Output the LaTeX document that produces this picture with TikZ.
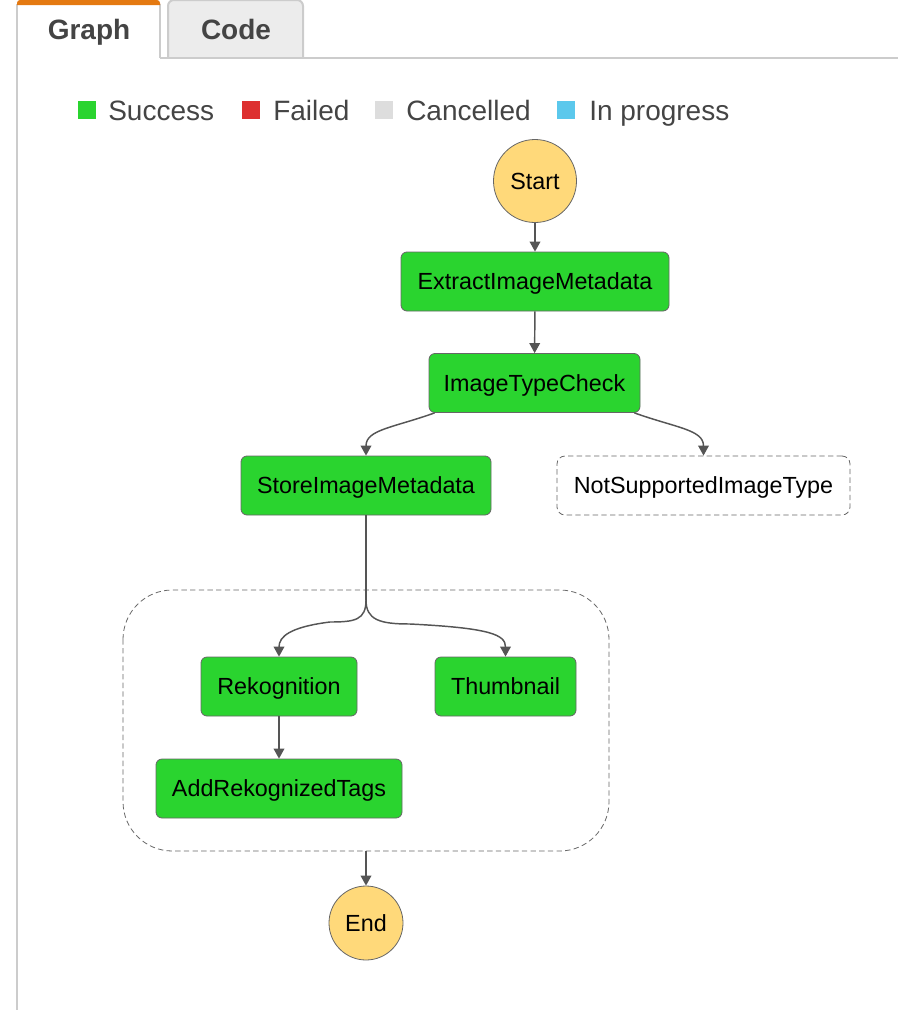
\documentclass[tikz,border=0pt]{standalone}
\usepackage{fontspec}
\setmainfont{Liberation Sans}
\usetikzlibrary{arrows.meta,calc}
\definecolor{okgreen}{HTML}{2AD42F}
\definecolor{failred}{HTML}{DD3030}
\definecolor{cancgray}{HTML}{DDDDDD}
\definecolor{progblue}{HTML}{5BC8EC}
\definecolor{termfill}{HTML}{FFD97A}
\definecolor{edgegray}{HTML}{555555}
\definecolor{bordergray}{HTML}{666666}
\definecolor{tabgray}{HTML}{ECECEC}
\definecolor{tabline}{HTML}{CCCCCC}
\definecolor{tabtext}{HTML}{444444}
\definecolor{taborange}{HTML}{E47911}
\begin{document}
\begin{tikzpicture}[x=0.75pt,y=-0.75pt,
  statebox/.style={draw=bordergray,line width=0.6pt,fill=okgreen,rounded corners=4.5pt,
    minimum height=44.25pt,inner sep=0pt,text height=12.6pt,text depth=0pt,
    font=\fontsize{17.5}{20}\selectfont,text=black},
  dashbox/.style={draw=bordergray,line width=0.6pt,dash pattern=on 4pt off 2.5pt,fill=white,rounded corners=6pt,
    minimum height=44.25pt,inner sep=0pt,text height=12.6pt,text depth=0pt,
    font=\fontsize{17.5}{20}\selectfont,text=black},
  term/.style={circle,draw=bordergray,line width=0.6pt,fill=termfill,inner sep=0pt,
    font=\fontsize{17.5}{20}\selectfont,text=black},
  termtxt/.style={inner sep=0pt,text height=12.6pt,text depth=0pt,
    font=\fontsize{17.5}{20}\selectfont,text=black},
  arr/.style={draw=edgegray,line width=1.1pt,-{Triangle[length=7.5pt,width=8pt]}},
  legsq/.style={minimum size=13.5pt,inner sep=0pt},
  legtxt/.style={anchor=west,inner sep=0pt,text height=15.1pt,text depth=0pt,
    font=\fontsize{21}{24}\selectfont,text=tabtext},
  tabtxt/.style={inner sep=0pt,text height=15.1pt,text depth=0pt,
    font=\bfseries\fontsize{21}{24}\selectfont,text=tabtext}]
\useasboundingbox (0,0) rectangle (898,1010);
% tabs
\fill[tabgray] (168,58) -- (168,6) to[out=90,in=180] (174,0) -- (297,0) to[out=0,in=90] (303,6) -- (303,58) -- cycle;
\draw[tabline,line width=1.5pt] (168,58) -- (168,6) to[out=90,in=180] (174,0) -- (297,0) to[out=0,in=90] (303,6) -- (303,58);
\draw[tabline,line width=1.5pt] (160,58) -- (898,58);
\draw[tabline,line width=1.5pt] (17,4) -- (17,1010);
\draw[tabline,line width=1.5pt] (160,4) -- (160,58);
\fill[taborange] (17,5) -- (17,3) to[out=90,in=180] (20,0) -- (157,0) to[out=0,in=90] (160,3) -- (160,5) -- cycle;
\node[tabtxt] (tabg) at (89,29.5) {Graph};
\node[tabtxt] (tabc) at (236,29.5) {Code};
% legend
\node[legsq,fill=okgreen] (lg1) at (87,110) {};
\node[legtxt] (lt1) at (108,110) {Success};
\node[legsq,fill=failred] (lg2) at (251,110) {};
\node[legtxt] (lt2) at (273,110) {Failed};
\node[legsq,fill=cancgray] (lg3) at (384,110) {};
\node[legtxt] (lt3) at (406,110) {Cancelled};
\node[legsq,fill=progblue] (lg4) at (566,110) {};
\node[legtxt] (lt4) at (589,110) {In progress};
% parallel container
\draw[bordergray,line width=0.6pt,dash pattern=on 4pt off 2.5pt,rounded corners=37pt] (123,590) rectangle (609,851);
\coordinate (parbot) at (366,851);
\coordinate (split) at (366,600);
% states
\node[term,minimum size=62.25pt] (start) at (535,181) {};
\node[termtxt] (starttxt) at (start) {Start};
\node[statebox,minimum width=201pt] (extract) at (535,281.5) {ExtractImageMetadata};
\node[statebox,minimum width=158.25pt] (itc) at (534.5,383) {ImageTypeCheck};
\node[statebox,minimum width=187.5pt] (store) at (366,485.5) {StoreImageMetadata};
\node[dashbox,minimum width=219.75pt] (nsit) at (703.5,485.5) {NotSupportedImageType};
\node[statebox,minimum width=117pt] (rek) at (279,686.5) {Rekognition};
\node[statebox,minimum width=105.75pt] (thumb) at (505.5,686.5) {Thumbnail};
\node[statebox,minimum width=184.5pt] (addrek) at (279,788.5) {AddRekognizedTags};
\node[term,minimum size=55.5pt] (end) at (366,923) {};
\node[termtxt] (endtxt) at (end) {End};
% edges
\draw[arr] (start) -- (extract);
\draw[arr] (extract) -- (itc);
\draw[arr] ([xshift=4.5pt]itc.south west) .. controls +(-42,15) and +(0,-26) .. (store.north);
\draw[arr] ([xshift=-4.5pt]itc.south east) .. controls +(42,15) and +(0,-26) .. (nsit.north);
\draw[draw=edgegray,line width=1.1pt] (store.south) -- (split);
\draw[arr] (split) .. controls +(0,20) and +(25,0) .. (330,622) .. controls +(-40,5) and +(0,-20) .. (rek.north);
\draw[arr] (split) .. controls +(0,20) and +(-30,0) .. (410,624) .. controls +(80,4) and +(0,-22) .. (thumb.north);
\draw[arr] (rek) -- (addrek);
\draw[arr] (parbot) -- (end);
\end{tikzpicture}
\end{document}
